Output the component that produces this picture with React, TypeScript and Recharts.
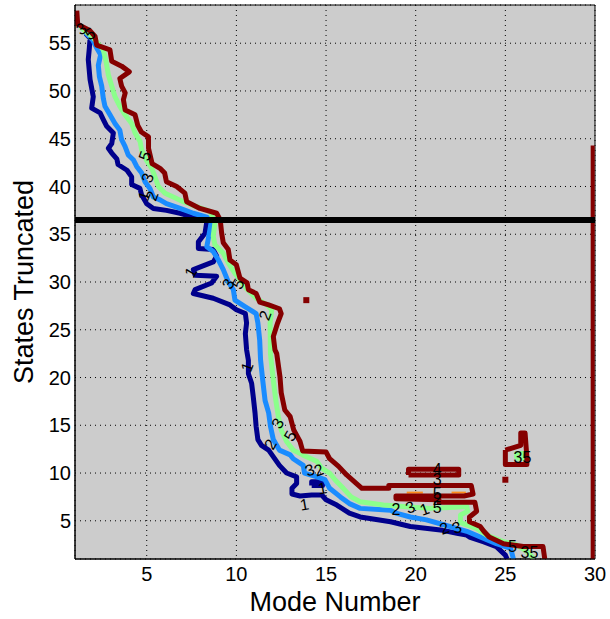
import React from "react";
import {
  ComposedChart,
  Line,
  Scatter,
  XAxis,
  YAxis,
  CartesianGrid,
  ReferenceLine,
  ReferenceArea,
} from "recharts";

type Pt = { x: number; y: number };
type Tag = { x: number; y: number; t: string; a: number };

const toPts = (rows: number[][]): Pt[] => rows.map(([x, y]) => ({ x, y }));

const FONT = '"Liberation Sans", Arial, Helvetica, sans-serif';

// axes
const modeTicks = [5, 10, 15, 20, 25, 30];
const stateTicks = [5, 10, 15, 20, 25, 30, 35, 40, 45, 50, 55];
const modeRange = [1, 30];
const stateRange = [1, 59];
const cutoff = 36.5;

// contour level 1
const level1 = toPts([
  [1.6, 56.0], [1.84, 55.5], [1.8, 54.5], [1.74, 53.3], [1.84, 51.2], [2.02, 49.4],
  [1.93, 48.2], [2.4, 47.7], [2.58, 47.0], [2.77, 46.3], [3.14, 45.6], [3.05, 44.5],
  [2.86, 44.0], [3.05, 43.5], [3.33, 42.9], [3.4, 42.3], [3.9, 41.7], [4.16, 41.0],
  [4.16, 40.2], [4.62, 39.8], [4.72, 39.1], [5.0, 38.2], [5.37, 37.7], [6.1, 37.5],
  [6.86, 37.2], [7.4, 36.9], [8.15, 36.7], [8.35, 36.3], [8.25, 35.1], [7.88, 34.2],
  [7.88, 33.5], [8.71, 33.4], [8.9, 32.7], [8.71, 32.1], [7.6, 31.3], [7.7, 30.7],
  [8.9, 30.6], [8.62, 29.9], [7.7, 29.2], [7.6, 28.8], [8.71, 28.3], [9.64, 27.6],
  [10.0, 27.1], [10.5, 26.7], [10.57, 25.7], [10.5, 24.6], [10.57, 22.9], [10.67, 21.8],
  [10.67, 20.4], [10.85, 19.4], [10.94, 18.0], [11.04, 16.3], [11.1, 14.9], [11.2, 13.5],
  [11.4, 12.9], [11.8, 12.4], [12.4, 10.8], [12.8, 10.0], [13.36, 9.6], [13.36, 8.9],
  [13.1, 8.4], [13.1, 7.8], [13.55, 7.6], [14.2, 7.7], [14.76, 7.7], [15.0, 7.2],
  [15.6, 6.65], [16.3, 5.8], [16.9, 5.4], [18.6, 4.9], [19.7, 4.4], [21.5, 4.0],
  [22.3, 3.7], [22.85, 3.5], [23.0, 3.3], [23.8, 2.8], [24.5, 2.3], [25.0, 1.4], [25.1, 1.0],
]);
const level1Island = toPts([
  [14.2, 8.7], [14.8, 8.7], [14.8, 9.1], [14.2, 9.1], [14.2, 8.7],
]);

// contour level 2
const level2 = toPts([
  [1.6, 56.1], [2.0, 55.3], [2.21, 54.5], [2.43, 53.8], [2.3, 52.7], [2.36, 51.5],
  [2.49, 50.5], [2.58, 49.2], [2.67, 48.4], [2.95, 47.5], [3.23, 46.6], [3.5, 45.9],
  [3.6, 44.9], [3.79, 44.2], [3.97, 43.3], [4.25, 42.8], [4.44, 42.1], [4.72, 41.4],
  [4.9, 40.5], [5.18, 39.8], [5.37, 38.9], [5.74, 38.6], [6.1, 38.2], [6.86, 37.7],
  [7.6, 37.2], [8.35, 36.8], [8.6, 36.3], [8.44, 34.6], [8.35, 33.7], [8.71, 33.2],
  [9.0, 32.3], [9.27, 31.3], [9.55, 30.0], [9.83, 29.2], [9.92, 28.1], [10.5, 27.4],
  [11.1, 26.7], [11.2, 25.7], [11.3, 23.9], [11.35, 21.8], [11.47, 19.7], [11.6, 17.6],
  [11.8, 16.3], [11.9, 14.9], [12.06, 13.5], [12.4, 12.4], [13.0, 11.9], [13.17, 11.5],
  [13.73, 10.8], [13.8, 10.0], [14.5, 9.6], [14.94, 9.3], [15.2, 8.4], [15.8, 7.5],
  [16.3, 6.8], [16.9, 6.3], [18.6, 6.1], [18.9, 5.8], [19.7, 5.4], [20.6, 5.1],
  [21.9, 4.4], [22.85, 3.9], [23.6, 3.3], [24.5, 2.6], [25.3, 2.1], [25.45, 1.0],
]);

// contour level 3
const level3 = toPts([
  [1.3, 56.7], [2.0, 55.6], [2.58, 54.3], [2.73, 53.1], [2.86, 51.7], [3.05, 50.5],
  [3.23, 49.4], [3.5, 48.4], [3.79, 47.5], [4.16, 46.6], [4.35, 45.6], [4.63, 44.7],
  [4.72, 43.8], [5.0, 42.7], [5.28, 41.9], [5.46, 41.0], [5.65, 40.0], [6.02, 39.3],
  [6.48, 38.9], [7.04, 38.4], [7.78, 37.9], [8.53, 37.4], [8.81, 36.3], [8.71, 34.8],
  [8.8, 33.9], [9.27, 33.0], [9.55, 32.0], [9.92, 30.9], [10.3, 30.0], [10.57, 29.3],
  [11.1, 28.3], [11.7, 27.6], [11.97, 27.1], [11.88, 25.7], [11.9, 22.5], [12.06, 19.7],
  [12.2, 17.6], [12.34, 15.9], [12.5, 14.5], [12.8, 13.3], [13.17, 12.4], [13.7, 11.9],
  [14.5, 11.2], [14.76, 10.5], [15.2, 10.0], [15.5, 9.3], [15.96, 8.4], [16.4, 7.5],
  [16.9, 7.0], [18.2, 6.65], [19.3, 6.5], [20.8, 6.3], [21.9, 6.4], [22.85, 6.5],
  [22.9, 6.0], [22.5, 5.6], [22.5, 4.8], [23.4, 4.2], [23.96, 3.5], [24.9, 2.8],
  [25.6, 2.5], [26.2, 1.8], [26.6, 1.0],
]);
const level3Island = toPts([
  [25.6, 11.5], [26.0, 11.5], [26.0, 12.1], [25.6, 12.1], [25.6, 11.5],
]);

// contour level 4 (only short pieces)
const level4A = toPts([[19.5, 7.95], [20.4, 7.95]]);
const level4B = toPts([[22.0, 7.95], [22.8, 7.95]]);

// contour level 5
const level5 = toPts([
  [1.1, 58.4], [1.15, 57.0], [1.84, 56.3], [2.12, 55.7], [2.21, 54.8], [2.95, 54.3],
  [3.05, 53.1], [3.6, 52.6], [4.03, 52.0], [3.5, 51.3], [3.6, 50.5], [3.8, 49.8],
  [3.7, 49.1], [3.8, 48.0], [4.35, 47.5], [4.5, 46.4], [4.7, 45.7], [5.1, 45.2],
  [5.1, 44.0], [5.3, 42.4], [5.74, 41.9], [6.0, 41.4], [6.1, 40.5], [6.67, 40.0],
  [7.13, 39.3], [7.23, 38.4], [7.97, 37.7], [8.9, 37.2], [9.1, 36.5], [9.18, 35.1],
  [9.27, 34.1], [9.55, 33.4], [9.64, 32.3], [10.0, 31.8], [10.2, 30.4], [10.6, 29.9],
  [10.67, 29.2], [11.1, 28.8], [11.3, 27.9], [11.8, 27.6], [12.4, 27.2], [12.5, 26.7],
  [12.3, 25.7], [12.06, 24.3], [12.15, 22.9], [12.25, 22.5], [12.43, 20.1], [12.5, 18.4],
  [12.7, 16.6], [13.0, 15.9], [13.2, 14.5], [13.55, 13.3], [13.7, 12.3], [15.0, 12.2],
  [15.2, 11.5], [15.7, 10.7], [16.15, 9.8], [16.7, 8.9], [17.0, 8.4], [18.5, 8.4],
  [18.5, 8.7], [23.1, 8.7], [23.2, 7.8], [22.7, 7.6], [18.9, 7.6], [18.9, 7.3],
  [21.3, 7.2], [21.3, 6.95], [23.3, 6.95], [23.4, 6.0], [23.0, 5.4], [23.0, 4.9],
  [23.6, 4.4], [23.8, 3.9], [24.1, 3.3], [24.9, 2.6], [26.0, 2.3], [27.1, 2.3], [27.2, 1.0],
]);
const level5Bar = toPts([
  [19.6, 9.8], [22.4, 9.8], [22.4, 10.4], [19.6, 10.4], [19.6, 9.8],
]);
const level5Island = toPts([
  [25.0, 12.4], [25.86, 12.9], [25.86, 14.2], [26.1, 14.2], [26.2, 11.7],
  [26.2, 10.9], [25.0, 10.9], [25.0, 12.4],
]);
const level5Edge = toPts([[29.87, 44.3], [29.87, 1.0]]);
const level5Specks = toPts([[13.9, 28.1], [25.0, 9.3]]);

// inline contour labels
const contourTags: Tag[] = [
  { x: 1.35, y: 56.5, t: "3", a: -30 },
  { x: 1.85, y: 56.0, t: "5", a: -30 },
  { x: 4.9, y: 43.2, t: "5", a: -70 },
  { x: 5.05, y: 40.9, t: "3", a: -70 },
  { x: 4.85, y: 39.0, t: "1", a: -70 },
  { x: 5.3, y: 39.0, t: "2", a: -70 },
  { x: 7.45, y: 31.0, t: "1", a: -60 },
  { x: 9.55, y: 29.8, t: "3", a: -60 },
  { x: 10.1, y: 29.8, t: "5", a: -60 },
  { x: 11.6, y: 26.5, t: "2", a: -70 },
  { x: 10.6, y: 21.1, t: "1", a: -70 },
  { x: 12.3, y: 15.2, t: "3", a: -60 },
  { x: 13.0, y: 13.9, t: "5", a: -60 },
  { x: 11.9, y: 13.0, t: "2", a: -60 },
  { x: 14.1, y: 10.3, t: "3", a: -20 },
  { x: 14.6, y: 10.3, t: "2", a: -20 },
  { x: 14.8, y: 8.4, t: "1", a: -10 },
  { x: 13.8, y: 6.7, t: "1", a: -10 },
  { x: 18.9, y: 6.2, t: "2", a: 0 },
  { x: 19.7, y: 6.4, t: "3", a: -20 },
  { x: 20.5, y: 6.2, t: "1", a: -20 },
  { x: 21.2, y: 6.4, t: "5", a: 0 },
  { x: 21.2, y: 10.4, t: "4", a: 0 },
  { x: 21.2, y: 9.3, t: "3", a: 0 },
  { x: 21.2, y: 7.9, t: "5", a: 0 },
  { x: 21.2, y: 7.2, t: "2", a: 0 },
  { x: 21.6, y: 4.2, t: "2", a: -20 },
  { x: 22.3, y: 4.3, t: "3", a: -20 },
  { x: 25.4, y: 2.3, t: "5", a: 0 },
  { x: 26.1, y: 1.7, t: "3", a: 0 },
  { x: 26.6, y: 1.7, t: "5", a: 0 },
  { x: 25.7, y: 11.6, t: "3", a: 0 },
  { x: 26.2, y: 11.6, t: "5", a: 0 },
];

// jet colours for levels 1..5
const C1 = "#00008c";
const C2 = "#1a8cff";
const C3 = "#8cff8c";
const C4 = "#ff8c1a";
const C5 = "#850000";

const ContourLabel = (props: any) => {
  const { cx, cy, payload } = props;
  if (cx == null || cy == null) return null;
  return (
    <text
      x={cx}
      y={cy}
      textAnchor="middle"
      dominantBaseline="central"
      fontSize={16}
      fontFamily={FONT}
      fill="#000"
      transform={`rotate(${payload.a} ${cx} ${cy})`}
    >
      {payload.t}
    </text>
  );
};

const Speck = (props: any) => {
  const { cx, cy } = props;
  if (cx == null || cy == null) return null;
  return <rect x={cx - 3} y={cy - 3} width={6} height={6} fill={C5} />;
};

const contour = (data: Pt[], stroke: string, key: string, width = 5) => (
  <Line
    key={key}
    data={data}
    dataKey="y"
    type="linear"
    stroke={stroke}
    strokeWidth={width}
    strokeLinejoin="round"
    dot={false}
    activeDot={false}
    isAnimationActive={false}
  />
);

export default function App() {
  return (
    <div style={{ position: "absolute", left: 0, top: 0, width: 610, height: 619, background: "#fff" }}>
      <ComposedChart width={610} height={619} margin={{ top: 5, right: 15, bottom: 0, left: 0 }}>
        <CartesianGrid fill="#cccccc" fillOpacity={1} stroke="#000" strokeDasharray="1 4" />
        <XAxis
          type="number"
          dataKey="x"
          domain={modeRange}
          ticks={modeTicks}
          allowDataOverflow
          height={60}
          tickLine={false}
          tickSize={6}
          tickMargin={2}
          axisLine={{ stroke: "#000" }}
          tick={{ fill: "#000", fontSize: 20, fontFamily: FONT }}
          label={{ value: "Mode Number", position: "insideBottom", offset: 8, fill: "#000", fontSize: 27, fontFamily: FONT }}
        />
        <YAxis
          type="number"
          dataKey="y"
          domain={stateRange}
          ticks={stateTicks}
          allowDataOverflow
          width={75}
          tickLine={false}
          tickSize={4}
          tickMargin={0}
          axisLine={{ stroke: "#000" }}
          tick={{ fill: "#000", fontSize: 20, fontFamily: FONT }}
          label={{
            content: (p: any) => {
              const vb = p.viewBox || { y: 5, height: 554 };
              const cy = vb.y + vb.height / 2;
              return (
                <text
                  x={33}
                  y={cy}
                  transform={`rotate(-90 33 ${cy})`}
                  textAnchor="middle"
                  fontSize={27}
                  fontFamily={FONT}
                  fill="#000"
                >
                  States Truncated
                </text>
              );
            },
          }}
        />
        {contour(level1, C1, "l1")}
        {contour(level1Island, C1, "l1i")}
        {contour(level2, C2, "l2")}
        {contour(level3, C3, "l3")}
        {contour(level3Island, C3, "l3i", 4)}
        {contour(level4A, C4, "l4a", 2)}
        {contour(level4B, C4, "l4b", 2)}
        {contour(level5, C5, "l5")}
        {contour(level5Bar, C5, "l5b")}
        {contour(level5Island, C5, "l5i")}
        {contour(level5Edge, C5, "l5e", 4)}
        <Scatter data={level5Specks} shape={<Speck />} isAnimationActive={false} />
        <Scatter data={contourTags} shape={<ContourLabel />} isAnimationActive={false} />
        <ReferenceLine y={cutoff} stroke="#000" strokeWidth={6} />
        <ReferenceArea x1={1} x2={30} y1={1} y2={59} fill="none" stroke="#000" strokeWidth={1} />
      </ComposedChart>
    </div>
  );
}
